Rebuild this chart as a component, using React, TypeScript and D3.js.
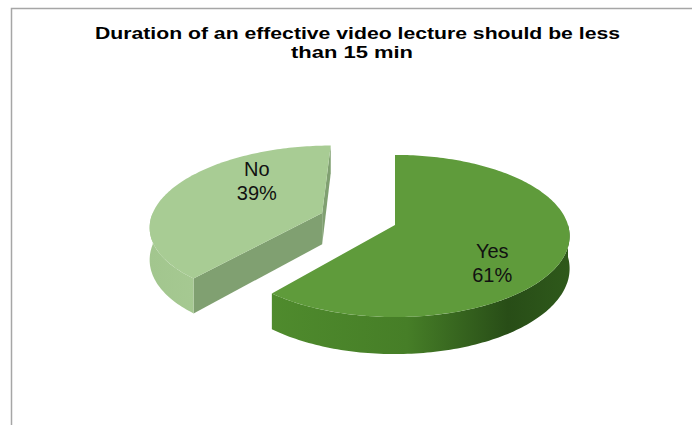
import React, { useEffect, useRef } from 'react';
import * as d3 from 'd3';

// chart data
const categories = ['Yes', 'No'];
const shares = [61, 39];
const titleLines = ['Duration of an effective video lecture should be less', 'than 15 min'];

const App = () => {
  const chartRef = useRef<SVGSVGElement>(null);

  useEffect(() => {
    const width = 692;
    const height = 425;
    const font = '"Liberation Sans", Arial, sans-serif';

    // pseudo 3D projection of the pie disk
    const cx = 395;
    const cy = 225;
    const R = 173;
    const tilt = 0.46;
    const cosT = 0.89;
    const dist = 1135;
    const depth = 32;
    const explodeDist = 79;
    const exploded = 'No';

    const colors: Record<string, { top: string; rim: string; cut: string }> = {
      Yes: { top: '#5f9b3b', rim: 'url(#rimYes)', cut: '#3f7022' },
      No: { top: '#a8cc94', rim: 'url(#rimNo)', cut: '#80a071' },
    };

    const svg = d3.select(chartRef.current);
    svg.selectAll('*').remove();

    const defs = svg.append('defs');
    const gYes = defs.append('linearGradient').attr('id', 'rimYes')
      .attr('gradientUnits', 'userSpaceOnUse')
      .attr('x1', 270).attr('x2', 575).attr('y1', 0).attr('y2', 0);
    [['0', '#4f8b2d'], ['0.45', '#467e27'], ['0.78', '#284d17'], ['1', '#2f5a1b']]
      .forEach(([o, c]) => gYes.append('stop').attr('offset', o).attr('stop-color', c));
    const gNo = defs.append('linearGradient').attr('id', 'rimNo')
      .attr('gradientUnits', 'userSpaceOnUse')
      .attr('x1', 150).attr('x2', 200).attr('y1', 0).attr('y2', 0);
    [['0', '#a2c68e'], ['1', '#a6c992']]
      .forEach(([o, c]) => gNo.append('stop').attr('offset', o).attr('stop-color', c));

    svg.append('rect')
      .attr('width', width).attr('height', height).attr('fill', '#fff');

    // chart frame (only left and top edges are in view)
    svg.append('path')
      .attr('d', `M11.5,${height + 10}V8.5H${width + 10}`)
      .attr('fill', 'none')
      .attr('stroke', '#a6a6a6')
      .attr('stroke-width', 1.5);

    const titleWidths = [525, 122];
    svg.append('g')
      .selectAll('text')
      .data(titleLines)
      .join('text')
      .attr('x', (d, i) => (i === 0 ? 357.5 : 352))
      .attr('y', (d, i) => 38.5 + i * 19)
      .attr('text-anchor', 'middle')
      .attr('font-family', font)
      .attr('font-weight', 'bold')
      .attr('font-size', 17)
      .attr('textLength', (d, i) => titleWidths[i])
      .attr('lengthAdjust', 'spacingAndGlyphs')
      .attr('fill', '#000')
      .text(d => d);

    const proj = (X: number, Z: number, h: number): [number, number] => {
      const p = dist / (dist + Z * cosT);
      return [cx + X * p, cy - Z * tilt * p + h * p];
    };

    const arcPts = (a0: number, a1: number, ox: number, oz: number, h: number) => {
      const n = Math.max(2, Math.ceil(Math.abs(a1 - a0) / 0.02));
      return d3.range(n + 1).map(i => {
        const t = a0 + (a1 - a0) * i / n;
        return proj(ox + R * Math.sin(t), oz + R * Math.cos(t), h);
      });
    };

    const line = d3.line();
    const pie = d3.pie<number>().sort(null).value(d => d);
    const arcs = pie(shares).map((a, i) => {
      const mid = (a.startAngle + a.endAngle) / 2;
      const e = categories[i] === exploded ? explodeDist : 0;
      return { ...a, name: categories[i], mid, ox: e * Math.sin(mid), oz: e * Math.cos(mid) };
    });

    // draw far slices first
    const order = [...arcs].sort((a, b) => b.oz - a.oz);
    const camZ = -dist / cosT;

    order.forEach(a => {
      const g = svg.append('g');
      const col = colors[a.name];

      // cut faces along the two radii
      const cuts: [number, number, number][] = [
        [a.startAngle, -Math.cos(a.startAngle), Math.sin(a.startAngle)],
        [a.endAngle, Math.cos(a.endAngle), -Math.sin(a.endAngle)],
      ];
      cuts.forEach(([ang, nx, nz]) => {
        const dot = nx * (0 - a.ox) + nz * (camZ - a.oz);
        if (dot <= 0.5) return;
        const rx = a.ox + R * Math.sin(ang);
        const rz = a.oz + R * Math.cos(ang);
        const pts = [proj(a.ox, a.oz, 0), proj(rx, rz, 0), proj(rx, rz, depth), proj(a.ox, a.oz, depth)];
        g.append('path').attr('d', line(pts) + 'Z').attr('fill', col.cut);
      });

      // outer rim facing the viewer
      const r0 = Math.max(a.startAngle, Math.PI / 2);
      const r1 = Math.min(a.endAngle, Math.PI * 1.5);
      if (r1 > r0) {
        const pts = [...arcPts(r0, r1, a.ox, a.oz, 0), ...arcPts(r0, r1, a.ox, a.oz, depth).reverse()];
        g.append('path').attr('d', line(pts) + 'Z').attr('fill', col.rim);
      }

      // top face
      const topPts = [proj(a.ox, a.oz, 0), ...arcPts(a.startAngle, a.endAngle, a.ox, a.oz, 0)];
      g.append('path').attr('d', line(topPts) + 'Z').attr('fill', col.top);
    });

    // data labels
    const total = d3.sum(shares);
    arcs.forEach(a => {
      const t = a.mid + (23 * Math.PI) / 180;
      const r = R * 0.66;
      const [px, ly] = proj(a.ox + r * Math.sin(t), a.oz + r * Math.cos(t), 0);
      const lx = px + 8;
      const label = svg.append('text')
        .attr('text-anchor', 'middle')
        .attr('font-family', font)
        .attr('font-size', 20)
        .attr('fill', '#111');
      label.append('tspan').attr('x', lx).attr('y', ly - 5).text(a.name);
      label.append('tspan').attr('x', lx).attr('y', ly + 19)
        .text(`${Math.round((a.value / total) * 100)}%`);
    });
  }, []);

  return (
    <svg
      ref={chartRef}
      width={692}
      height={425}
      style={{ position: 'absolute', left: 0, top: 0 }}
    />
  );
};

export default App;
